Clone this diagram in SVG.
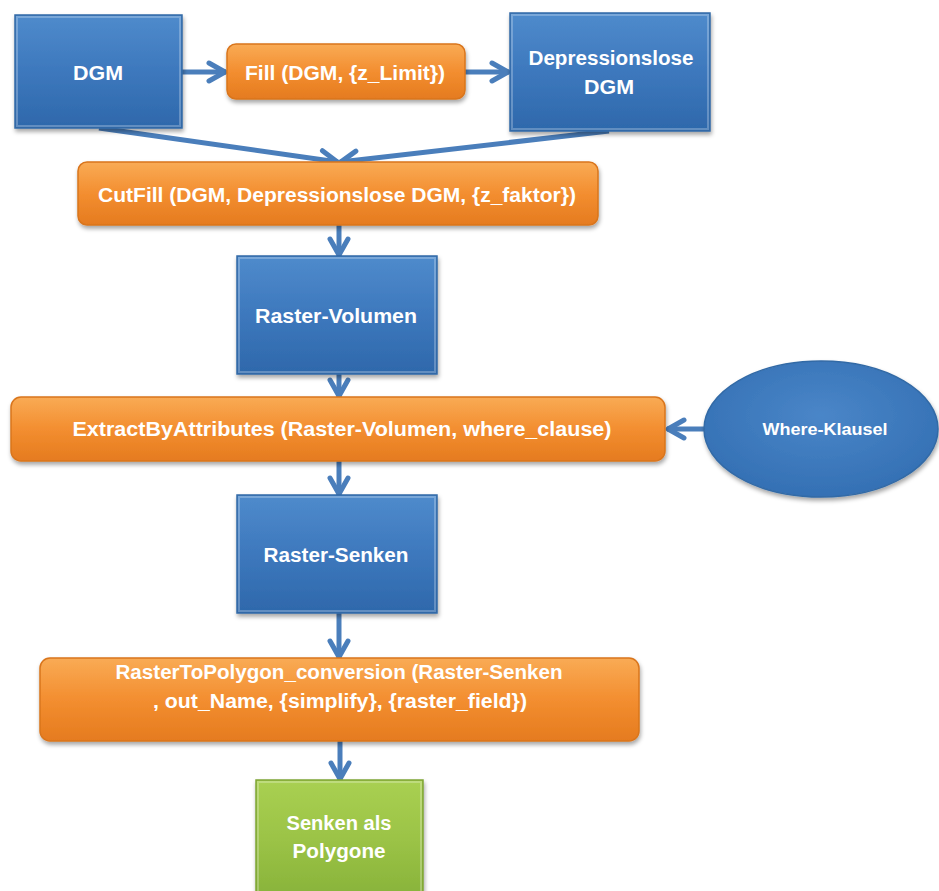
<svg xmlns="http://www.w3.org/2000/svg" width="939" height="891" viewBox="0 0 939 891">
  <defs>
    <linearGradient id="gBlue" x1="0" y1="0" x2="0" y2="1">
      <stop offset="0" stop-color="#4f8bcc"/>
      <stop offset="0.5" stop-color="#3d78bd"/>
      <stop offset="1" stop-color="#2e68ab"/>
    </linearGradient>
    <linearGradient id="gOrange" x1="0" y1="0" x2="0" y2="1">
      <stop offset="0" stop-color="#f9ab55"/>
      <stop offset="0.5" stop-color="#f38e30"/>
      <stop offset="1" stop-color="#e57b1f"/>
    </linearGradient>
    <linearGradient id="gGreen" x1="0" y1="0" x2="0" y2="1">
      <stop offset="0" stop-color="#a9d052"/>
      <stop offset="0.5" stop-color="#9bc346"/>
      <stop offset="1" stop-color="#87b23a"/>
    </linearGradient>
    <radialGradient id="gEllipse" cx="0.5" cy="0.4" r="0.6">
      <stop offset="0" stop-color="#4a86c8"/>
      <stop offset="1" stop-color="#3470b4"/>
    </radialGradient>
    <filter id="shadow" x="-10%" y="-10%" width="120%" height="130%">
      <feDropShadow dx="1" dy="3" stdDeviation="2" flood-color="#000" flood-opacity="0.35"/>
    </filter>
    <marker id="chevron" viewBox="0 0 22 24" refX="20" refY="12" markerWidth="22" markerHeight="24" markerUnits="userSpaceOnUse" orient="auto">
      <path d="M3,3 L19,12 L3,21" fill="none" stroke="#4a7ebb" stroke-width="5" stroke-linecap="round" stroke-linejoin="round"/>
    </marker>
  </defs>
  <style>
    .blue { fill: url(#gBlue); stroke: #336aa6; stroke-width: 1.5; filter: url(#shadow); }
    .orange { fill: url(#gOrange); stroke: #d9751c; stroke-width: 1.5; filter: url(#shadow); }
    .green { fill: url(#gGreen); stroke: #7fa535; stroke-width: 1.5; filter: url(#shadow); }
    .ell { fill: url(#gEllipse); stroke: #336aa6; stroke-width: 1.5; filter: url(#shadow); }
    .hl { fill: none; stroke: #ffffff; stroke-opacity: 0.25; stroke-width: 2; }
    .lbl { font-family: "Liberation Sans", Arial, sans-serif; font-weight: bold; fill: #ffffff; font-size: 20px; text-anchor: middle; }
    .small { font-size: 17px; }
    .conn { fill: none; stroke: #4a7ebb; stroke-width: 5; marker-end: url(#chevron); }
  </style>

  <g id="connectors">
    <line class="conn" x1="182" y1="72" x2="226" y2="72"/>
    <line class="conn" x1="465" y1="72" x2="509" y2="72"/>
    <line class="conn" x1="99" y1="128" x2="338" y2="162"/>
    <line class="conn" x1="609" y1="131" x2="340" y2="162"/>
    <line class="conn" x1="339" y1="225" x2="339" y2="256"/>
    <line class="conn" x1="339" y1="374" x2="339" y2="397"/>
    <line class="conn" x1="704" y1="429" x2="667" y2="429"/>
    <line class="conn" x1="339" y1="461" x2="339" y2="495"/>
    <line class="conn" x1="339" y1="613" x2="339" y2="658"/>
    <line class="conn" x1="340" y1="741" x2="340" y2="780"/>
  </g>

  <g id="dgm">
    <rect class="blue" x="15" y="15" width="167" height="113"/>
    <rect class="hl" x="17" y="17" width="163" height="109"/>
    <text class="lbl" x="98" y="80" textLength="50" lengthAdjust="spacingAndGlyphs">DGM</text>
  </g>

  <g id="fill">
    <rect class="orange" x="227" y="44" width="238" height="55" rx="9"/>
    <text class="lbl" x="345" y="80" textLength="200" lengthAdjust="spacingAndGlyphs">Fill (DGM, {z_Limit})</text>
  </g>

  <g id="depressionslose">
    <rect class="blue" x="510" y="13" width="200" height="118"/>
    <rect class="hl" x="512" y="15" width="196" height="114"/>
    <text class="lbl" x="611" y="65" textLength="165" lengthAdjust="spacingAndGlyphs">Depressionslose</text>
    <text class="lbl" x="609" y="94" textLength="50" lengthAdjust="spacingAndGlyphs">DGM</text>
  </g>

  <g id="cutfill">
    <rect class="orange" x="78" y="162" width="520" height="63" rx="9"/>
    <text class="lbl" x="337" y="202" textLength="478" lengthAdjust="spacingAndGlyphs">CutFill (DGM, Depressionslose DGM, {z_faktor})</text>
  </g>

  <g id="raster-volumen">
    <rect class="blue" x="237" y="256" width="200" height="118"/>
    <rect class="hl" x="239" y="258" width="196" height="114"/>
    <text class="lbl" x="336" y="323" textLength="162" lengthAdjust="spacingAndGlyphs">Raster-Volumen</text>
  </g>

  <g id="extract">
    <rect class="orange" x="11" y="397" width="654" height="64" rx="10"/>
    <text class="lbl" x="342" y="436" textLength="539" lengthAdjust="spacingAndGlyphs">ExtractByAttributes (Raster-Volumen, where_clause)</text>
  </g>

  <g id="where-klausel">
    <ellipse class="ell" cx="821" cy="429" rx="117" ry="68"/>
    <text class="lbl small" x="825" y="435" textLength="125" lengthAdjust="spacingAndGlyphs">Where-Klausel</text>
  </g>

  <g id="raster-senken">
    <rect class="blue" x="237" y="495" width="200" height="118"/>
    <rect class="hl" x="239" y="497" width="196" height="114"/>
    <text class="lbl" x="336" y="562" textLength="145" lengthAdjust="spacingAndGlyphs">Raster-Senken</text>
  </g>

  <g id="raster-to-polygon">
    <rect class="orange" x="40" y="658" width="599" height="83" rx="10"/>
    <text class="lbl" x="339" y="679" textLength="447" lengthAdjust="spacingAndGlyphs">RasterToPolygon_conversion (Raster-Senken</text>
    <text class="lbl" x="340" y="708" textLength="374" lengthAdjust="spacingAndGlyphs">, out_Name, {simplify}, {raster_field})</text>
  </g>

  <g id="senken-polygone">
    <rect class="green" x="256" y="780" width="167" height="120"/>
    <rect class="hl" x="258" y="782" width="163" height="116"/>
    <text class="lbl" x="339" y="830" textLength="105" lengthAdjust="spacingAndGlyphs">Senken als</text>
    <text class="lbl" x="339" y="858" textLength="93" lengthAdjust="spacingAndGlyphs">Polygone</text>
  </g>
</svg>
